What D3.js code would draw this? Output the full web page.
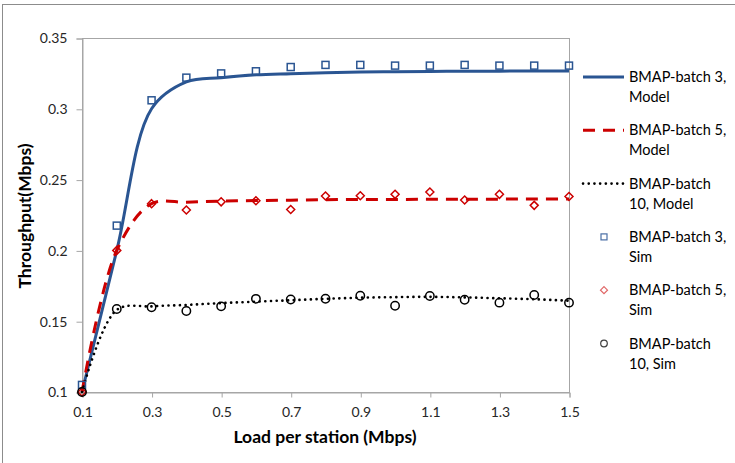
<!DOCTYPE html>
<html>
<head>
<meta charset="utf-8">
<script src="https://cdn.jsdelivr.net/npm/d3@7/dist/d3.min.js"></script>
<style>
  html, body { margin: 0; padding: 0; background: #fff; }
  svg { display: block; font-family: Lato, "Open Sans", sans-serif; }
</style>
</head>
<body>
<svg id="chart" width="735" height="463"></svg>
<script>
// Offered load per station (Mbps)
const loads = [0.1, 0.2, 0.3, 0.4, 0.5, 0.6, 0.7, 0.8, 0.9, 1.0, 1.1, 1.2, 1.3, 1.4, 1.5];

// Analytical model throughput (Mbps)
const modelBatch3  = [0.100, 0.200, 0.300, 0.319, 0.322, 0.324, 0.3248, 0.3255, 0.326, 0.3262, 0.3264, 0.3265, 0.3266, 0.3267, 0.3267];
const modelBatch5  = [0.100, 0.200, 0.233, 0.234, 0.2348, 0.2352, 0.2355, 0.2358, 0.236, 0.236, 0.2361, 0.2362, 0.2362, 0.2363, 0.2363];
const modelBatch10 = [0.100, 0.158, 0.1605, 0.1615, 0.1628, 0.1638, 0.1648, 0.1658, 0.1666, 0.167, 0.1672, 0.1668, 0.1662, 0.1655, 0.1645];

// Simulation throughput (Mbps)
const simBatch3  = [0.105, 0.2175, 0.306, 0.322, 0.325, 0.3265, 0.3295, 0.331, 0.331, 0.3305, 0.3305, 0.331, 0.3305, 0.3305, 0.3305];
const simBatch5  = [0.100, 0.200, 0.233, 0.2285, 0.2343, 0.2351, 0.2289, 0.2384, 0.2386, 0.2396, 0.2412, 0.2356, 0.2396, 0.2318, 0.2381];
const simBatch10 = [0.100, 0.1586, 0.1598, 0.1572, 0.1605, 0.1658, 0.1653, 0.1659, 0.168, 0.1609, 0.1678, 0.1652, 0.1631, 0.1685, 0.1631];

// Axis ticks
const xTicks = [0.1, 0.3, 0.5, 0.7, 0.9, 1.1, 1.3, 1.5];
const yTicks = [0.1, 0.15, 0.2, 0.25, 0.3, 0.35];

const seriesNames = [
  ["BMAP-batch 3,", "Model"],
  ["BMAP-batch 5,", "Model"],
  ["BMAP-batch", "10, Model"],
  ["BMAP-batch 3,", "Sim"],
  ["BMAP-batch 5,", "Sim"],
  ["BMAP-batch", "10, Sim"]
];

const BLUE = "#2a5592", RED = "#cc0000", BLACK = "#000000", GRID = "#a6a6a6";

const svg = d3.select("#chart");
const plot = { left: 82, right: 569, top: 38, bottom: 392 };

const x = d3.scaleLinear().domain([0.1, 1.5]).range([plot.left, plot.right]);
const y = d3.scaleLinear().domain([0.1, 0.35]).range([plot.bottom, plot.top]);

// outer chart frame
svg.append("rect")
  .attr("x", 2.5).attr("y", 4.5).attr("width", 760).attr("height", 480)
  .attr("fill", "#fff").attr("stroke", "#8c8c8c").attr("stroke-width", 1);

// plot area frame
svg.append("rect")
  .attr("x", plot.left + 0.5).attr("y", plot.top + 0.5)
  .attr("width", plot.right - plot.left).attr("height", plot.bottom - plot.top)
  .attr("fill", "none").attr("stroke", GRID).attr("stroke-width", 1);

// y axis
const yAxis = svg.append("g")
  .attr("transform", `translate(${plot.left + 0.5},0.5)`)
  .call(d3.axisLeft(y).tickValues(yTicks).tickSize(6).tickPadding(9)
    .tickFormat(d => d3.format("")(+d.toFixed(2))));
yAxis.select(".domain").attr("stroke", GRID);
yAxis.selectAll(".tick line").attr("stroke", GRID);
yAxis.selectAll(".tick text").attr("font-size", 14).attr("fill", "#262626")
  .attr("font-family", "Lato");

// x axis
const xAxis = svg.append("g")
  .attr("transform", `translate(0.5,${plot.bottom + 0.5})`)
  .call(d3.axisBottom(x).tickValues(xTicks).tickSize(5).tickPadding(10)
    .tickFormat(d => d3.format("")(+d.toFixed(1))));
xAxis.select(".domain").attr("stroke", GRID);
xAxis.selectAll(".tick line").attr("stroke", GRID);
xAxis.selectAll(".tick text").attr("font-size", 14).attr("fill", "#262626")
  .attr("font-family", "Lato");

// axis titles
svg.append("text")
  .attr("x", 325).attr("y", 443)
  .attr("text-anchor", "middle")
  .attr("font-size", 17.5).attr("font-weight", "bold").attr("fill", "#000")
  .text("Load per station (Mbps)");

svg.append("text")
  .attr("transform", "translate(31,216) rotate(-90)")
  .attr("text-anchor", "middle")
  .attr("font-size", 17.5).attr("font-weight", "bold").attr("fill", "#000")
  .text("Throughput(Mbps)");

// model curves
const line = vals => d3.line()
  .x((d, i) => x(loads[i]))
  .y(d => y(d))
  .curve(d3.curveCatmullRom.alpha(0.5))(vals);

const modelStyles = [
  { vals: modelBatch3, color: BLUE, dash: null, width: 3, cap: "butt" },
  { vals: modelBatch5, color: RED, dash: "12,8", width: 3, cap: "butt" },
  { vals: modelBatch10, color: BLACK, dash: "0.1,5.6", width: 2.6, cap: "round" }
];

modelStyles.forEach(s => {
  svg.append("path")
    .attr("d", line(s.vals))
    .attr("fill", "none")
    .attr("stroke", s.color)
    .attr("stroke-width", s.width)
    .attr("stroke-linecap", s.cap)
    .attr("stroke-dasharray", s.dash);
});

// simulation markers
const squares = svg.append("g");
squares.selectAll("rect").data(simBatch3).join("rect")
  .attr("x", (d, i) => x(loads[i]) - 3.5)
  .attr("y", d => y(d) - 3.5)
  .attr("width", 7).attr("height", 7)
  .attr("fill", "none")
  .attr("stroke", BLUE).attr("stroke-width", 1.5);

const diamonds = svg.append("g");
diamonds.selectAll("path").data(simBatch5).join("path")
  .attr("transform", (d, i) => `translate(${x(loads[i])},${y(d)})`)
  .attr("d", "M0,-4L4,0L0,4L-4,0Z")
  .attr("fill", "none")
  .attr("stroke", RED).attr("stroke-width", 1.5);

const circles = svg.append("g");
circles.selectAll("circle").data(simBatch10).join("circle")
  .attr("cx", (d, i) => x(loads[i]))
  .attr("cy", d => y(d))
  .attr("r", 4.2)
  .attr("fill", "none")
  .attr("stroke", BLACK).attr("stroke-width", 1.5);

// legend
const legend = svg.append("g").attr("transform", "translate(583,77)");
const rowGap = 53.3;
seriesNames.forEach((name, i) => {
  const g = legend.append("g").attr("transform", `translate(0,${i * rowGap})`);
  if (i < 3) {
    const s = modelStyles[i];
    g.append("line")
      .attr("x1", 0).attr("x2", 41).attr("y1", 0).attr("y2", 0)
      .attr("stroke", s.color).attr("stroke-width", s.width)
      .attr("stroke-linecap", s.cap).attr("stroke-dasharray", s.dash);
  } else if (i === 3) {
    g.append("rect").attr("x", 18).attr("y", -3).attr("width", 6).attr("height", 6)
      .attr("fill", "none").attr("stroke", "#4a6fa5").attr("stroke-width", 1.2);
  } else if (i === 4) {
    g.append("path").attr("transform", "translate(21,0)").attr("d", "M0,-3.5L3.5,0L0,3.5L-3.5,0Z")
      .attr("fill", "none").attr("stroke", "#e06666").attr("stroke-width", 1.2);
  } else {
    g.append("circle").attr("cx", 21).attr("cy", 0).attr("r", 3.3)
      .attr("fill", "none").attr("stroke", "#404040").attr("stroke-width", 1.2);
  }
  name.forEach((t, j) => {
    g.append("text")
      .attr("x", 46).attr("y", 5 + j * 20)
      .attr("font-size", 14.5).attr("fill", "#000")
      .text(t);
  });
});
</script>
</body>
</html>
